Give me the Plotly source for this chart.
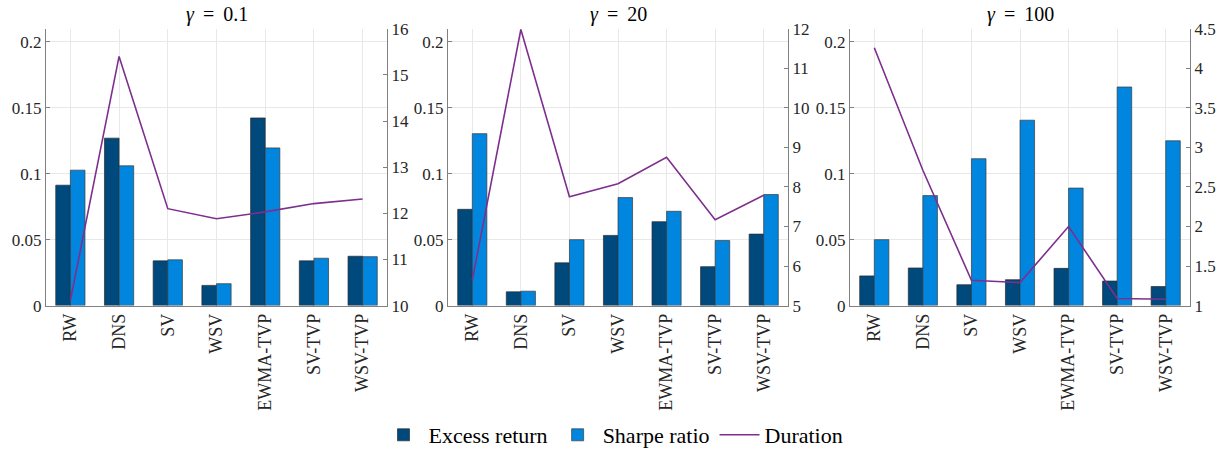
import plotly.graph_objects as go

categories = ["RW", "DNS", "SV", "WSV", "EWMA-TVP", "SV-TVP", "WSV-TVP"]
gamma_labels = ["0.1", "20", "100"]

excess_g01 = [0.0913, 0.127, 0.0339, 0.0153, 0.1423, 0.0339, 0.0374]
sharpe_g01 = [0.1027, 0.106, 0.0347, 0.0166, 0.1196, 0.0359, 0.0371]
duration_g01 = [10.11, 15.40, 12.10, 11.88, 12.03, 12.21, 12.31]

excess_g20 = [0.073, 0.0104, 0.0324, 0.0532, 0.0636, 0.0295, 0.0542]
sharpe_g20 = [0.1304, 0.0109, 0.050, 0.0819, 0.0715, 0.0493, 0.0842]
duration_g20 = [5.64, 11.98, 7.75, 8.08, 8.75, 7.17, 7.79]

excess_g100 = [0.0225, 0.0285, 0.0158, 0.0196, 0.0282, 0.0186, 0.0144]
sharpe_g100 = [0.050, 0.0834, 0.1114, 0.1406, 0.0891, 0.1658, 0.125]
duration_g100 = [4.26, 2.71, 1.32, 1.29, 2.00, 1.09, 1.08]

left_ticks = [0, 0.05, 0.1, 0.15, 0.2]
left_ticktext = ["0", "0.05", "0.1", "0.15", "0.2"]
right_ranges = [[10, 16], [5, 12], [1, 4.5]]
right_dticks = [1, 1, 0.5]

excess_all = [excess_g01, excess_g20, excess_g100]
sharpe_all = [sharpe_g01, sharpe_g20, sharpe_g100]
duration_all = [duration_g01, duration_g20, duration_g100]

C_DARK = "#00497c"
C_LIGHT = "#0086de"
C_LINE = "#7e2f8e"
FONT = "Liberation Serif"
W, H = 1227, 456

# panel pixel boxes (left, right) and vertical extent
panels_px = [(46, 387), (448, 788), (850, 1190)]
top_px, bot_px = 29.3, 311.7
ydom = [1 - bot_px / H, 1 - top_px / H]

fig = go.Figure()
layout = dict(
    width=W, height=H,
    margin=dict(l=0, r=0, t=0, b=0),
    paper_bgcolor="white", plot_bgcolor="white",
    barmode="group", bargap=0.4, bargroupgap=0,
    font=dict(family=FONT, size=17, color="#262626"),
    showlegend=True,
    legend=dict(orientation="h", x=0.5, xanchor="center", y=1 - 444 / H, yanchor="middle",
                font=dict(family=FONT, size=22, color="#000"), itemwidth=40,
                bgcolor="rgba(0,0,0,0)", traceorder="normal"),
    annotations=[],
)

for i in range(3):
    xa = "x" if i == 0 else f"x{i+1}"
    yl_n = 2 * i + 1
    yr_n = 2 * i + 2
    yl = "y" if yl_n == 1 else f"y{yl_n}"
    yr = f"y{yr_n}"
    show = i == 0
    fig.add_trace(go.Bar(x=categories, y=excess_all[i], name="Excess return",
                         marker=dict(color=C_DARK, line=dict(color="#2b2b2b", width=0.7)),
                         xaxis=xa, yaxis=yl, showlegend=show, legendgroup="ex"))
    fig.add_trace(go.Bar(x=categories, y=sharpe_all[i], name="Sharpe ratio",
                         marker=dict(color=C_LIGHT, line=dict(color="#3a3a3a", width=0.7)),
                         xaxis=xa, yaxis=yl, showlegend=show, legendgroup="sr"))
    fig.add_trace(go.Scatter(x=categories, y=duration_all[i], name="Duration", mode="lines",
                             line=dict(color=C_LINE, width=1.6),
                             xaxis=xa, yaxis=yr, showlegend=show, legendgroup="du"))

    l, r = panels_px[i]
    xdom = [l / W, r / W]
    xkey = "xaxis" if i == 0 else f"xaxis{i+1}"
    ylkey = "yaxis" if yl_n == 1 else f"yaxis{yl_n}"
    yrkey = f"yaxis{yr_n}"
    layout[xkey] = dict(domain=xdom, anchor=yl, type="category", range=[-0.5, 6.5],
                        tickangle=-90, showgrid=True, gridcolor="#e8e8e8", gridwidth=1,
                        showline=True, linecolor="#808080", linewidth=1, ticks="",
                        tickfont=dict(family=FONT, size=18, color="#262626"),
                        automargin=False, zeroline=False, fixedrange=True)
    layout[ylkey] = dict(domain=ydom, anchor=xa, range=[0, 0.21], tickvals=left_ticks,
                         ticktext=left_ticktext, showgrid=True, gridcolor="#e8e8e8", gridwidth=1,
                         showline=True, linecolor="#808080", linewidth=1, ticks="inside",
                         ticklen=4, tickcolor="#808080", zeroline=False,
                         tickfont=dict(family=FONT, size=17, color="#262626"),
                         automargin=False)
    layout[yrkey] = dict(domain=ydom, anchor=xa, overlaying=yl, side="right",
                         range=right_ranges[i], dtick=right_dticks[i], tick0=right_ranges[i][0],
                         showgrid=False, showline=True, linecolor="#808080", linewidth=1,
                         ticks="inside", ticklen=4, tickcolor="#808080", zeroline=False,
                         tickfont=dict(family=FONT, size=17, color="#262626"),
                         automargin=False)
    layout["annotations"].append(dict(
        x=(xdom[0] + xdom[1]) / 2, y=1 - 15 / H, xref="paper", yref="paper",
        text=f"<i>γ</i>\u2009 = \u2009{gamma_labels[i]}", showarrow=False,
        font=dict(family=FONT, size=20, color="#000"), xanchor="center", yanchor="middle"))

fig.update_layout(**layout)
fig.write_html("out.html", config={"displayModeBar": False},
               post_script="document.body.style.margin='0';document.body.style.overflow='hidden';")
